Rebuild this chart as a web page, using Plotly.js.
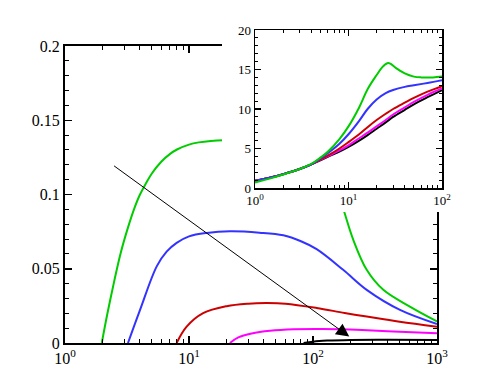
<!DOCTYPE html>
<html>
<head>
<meta charset="utf-8">
<script src="https://cdn.plot.ly/plotly-3.0.1.min.js"></script>
<style>
  body { margin: 0; background: white; }
  #wrap { position: relative; width: 498px; height: 388px; }
  #main { position: absolute; left: 0; top: 0; width: 498px; height: 388px; }
  #inset { position: absolute; left: 222px; top: 0; width: 276px; height: 212px; }
</style>
</head>
<body>
<div id="wrap">
  <div id="main"></div>
  <div id="inset"></div>
</div>
<script>
// main plot curves
var greenX = [1.98, 2.2, 2.5, 2.8, 3.2, 3.6, 4, 4.5, 5, 6, 7, 8, 10, 12, 15, 19, 25, 35, 50, 80, 120, 150, 178, 211, 271, 369, 604, 1000];
var greenY = [0, 0.02, 0.042, 0.06, 0.077, 0.09, 0.0995, 0.1075, 0.114, 0.1222, 0.1272, 0.1303, 0.1336, 0.1351, 0.1361, 0.1366, 0.1366, 0.136, 0.1345, 0.129, 0.119, 0.108, 0.0887, 0.0696, 0.0493, 0.0358, 0.0245, 0.0145];

var blueX = [3.22, 4.03, 5.49, 6.6, 7.95, 10, 13.9, 21.4, 37, 57.6, 80, 107, 175, 271, 503, 1000];
var blueY = [0, 0.0223, 0.0516, 0.0615, 0.0674, 0.0718, 0.0741, 0.0752, 0.0743, 0.0725, 0.0685, 0.0632, 0.0493, 0.0358, 0.0223, 0.0128];

var redX = [7.95, 9.57, 13, 20.1, 30, 42, 60, 107, 180, 271, 500, 1000];
var redY = [0, 0.011, 0.0201, 0.0248, 0.0265, 0.0269, 0.0265, 0.0236, 0.0202, 0.0178, 0.0143, 0.011];

var magentaX = [21.4, 25, 32, 45, 70, 120, 250, 500, 1000];
var magentaY = [0, 0.0038, 0.0064, 0.0082, 0.0092, 0.0094, 0.0087, 0.0076, 0.0065];

var blackX = [84, 100, 130, 200, 400, 1000];
var blackY = [0, 0.0009, 0.0016, 0.0021, 0.0022, 0.002];

// arrow (tail -> head)
var arrowTail = [2.42, 0.12];
var arrowHead = [196, 0.0043];

// inset curves
var inGreenX = [1, 1.5, 2, 3, 4, 5, 6, 8, 10, 13, 16, 20, 23, 26, 28, 32, 40, 50, 60, 80, 100];
var inGreenY = [0.7, 1.25, 1.7, 2.4, 3.05, 3.85, 4.6, 6.2, 7.8, 10.2, 12.5, 14.3, 15.3, 15.8, 15.75, 15.2, 14.5, 14.1, 14.0, 14.0, 14.1];

var inX = [1, 1.5, 2, 3, 4, 5, 6, 8, 10, 13, 16, 20, 25, 30, 40, 50, 70, 100];
var inBlueY = [0.9, 1.35, 1.75, 2.4, 3.0, 3.75, 4.4, 5.6, 6.8, 8.5, 10.0, 11.2, 12.0, 12.4, 12.8, 13.0, 13.3, 13.65];
var inRedY = [0.9, 1.35, 1.75, 2.4, 3.0, 3.6, 4.1, 5.0, 5.8, 6.8, 7.7, 8.6, 9.4, 10.0, 10.8, 11.4, 12.2, 12.9];
var inMagentaY = [0.9, 1.35, 1.75, 2.4, 3.0, 3.55, 4.0, 4.75, 5.4, 6.3, 7.0, 7.8, 8.6, 9.3, 10.2, 10.9, 11.8, 12.6];
var inBlackY = [0.9, 1.35, 1.75, 2.4, 3.0, 3.5, 3.95, 4.6, 5.2, 6.0, 6.7, 7.5, 8.3, 9.0, 9.9, 10.6, 11.5, 12.4];

var decades3 = [1, 10, 100, 1000];
var decadeText3 = ['10<sup>0</sup>', '10<sup>1</sup>', '10<sup>2</sup>', '10<sup>3</sup>'];
var decades2 = [1, 10, 100];
var decadeText2 = ['10<sup>0</sup>', '10<sup>1</sup>', '10<sup>2</sup>'];

function minorLog(maxDec) {
  var v = [];
  for (var d = 0; d < maxDec; d++) {
    for (var k = 2; k <= 9; k++) v.push(k * Math.pow(10, d));
  }
  return v;
}

var colors = {green: '#00cc00', blue: '#3333ff', red: '#cc0000', magenta: '#ff00ff', black: '#000000'};
var serif = 'Liberation Serif';

function line(x, y, c) {
  return {x: x, y: y, type: 'scatter', mode: 'lines',
    line: {color: c, width: 2, shape: 'spline', smoothing: 1}, hoverinfo: 'skip'};
}

var data = [
  line(greenX, greenY, colors.green),
  line(blueX, blueY, colors.blue),
  line(redX, redY, colors.red),
  line(magentaX, magentaY, colors.magenta),
  line(blackX, blackY, colors.black)
];

var layout = {
  width: 498, height: 388,
  margin: {l: 65, r: 61, t: 46, b: 45},
  showlegend: false,
  paper_bgcolor: 'white', plot_bgcolor: 'white',
  font: {family: serif, size: 16, color: 'black'},
  xaxis: {
    type: 'log', range: [0, 3],
    tickmode: 'array', tickvals: decades3, ticktext: decadeText3,
    ticks: 'inside', ticklen: 7, tickwidth: 1.5, tickcolor: 'black',
    showline: true, linewidth: 2, linecolor: 'black', mirror: 'ticks',
    showgrid: false, zeroline: false,
    minor: {ticks: 'inside', ticklen: 4, tickwidth: 1, tickcolor: 'black', tickvals: minorLog(3), showgrid: false}
  },
  yaxis: {
    range: [0, 0.2], tickmode: 'linear', tick0: 0, dtick: 0.05,
    ticks: 'inside', ticklen: 7, tickwidth: 1.5, tickcolor: 'black',
    showline: true, linewidth: 2, linecolor: 'black', mirror: 'ticks',
    showgrid: false, zeroline: false,
    minor: {ticks: 'inside', ticklen: 4, tickwidth: 1, tickcolor: 'black', dtick: 0.01, showgrid: false}
  },
  annotations: [{
    x: Math.log10(arrowHead[0]), y: arrowHead[1],
    ax: Math.log10(arrowTail[0]), ay: arrowTail[1],
    xref: 'x', yref: 'y', axref: 'x', ayref: 'y',
    text: '', showarrow: true,
    arrowhead: 2, arrowsize: 2.6, arrowwidth: 1, arrowcolor: 'black'
  }]
};

Plotly.newPlot('main', data, layout, {staticPlot: true});

var insetData = [
  line(inX, inBlackY, colors.black),
  line(inX, inMagentaY, colors.magenta),
  line(inX, inRedY, colors.red),
  line(inX, inBlueY, colors.blue),
  line(inGreenX, inGreenY, colors.green)
];

var insetLayout = {
  width: 276, height: 212,
  margin: {l: 33, r: 56, t: 30, b: 24},
  showlegend: false,
  paper_bgcolor: 'white', plot_bgcolor: 'white',
  font: {family: serif, size: 13, color: 'black'},
  xaxis: {
    type: 'log', range: [0, 2],
    tickmode: 'array', tickvals: decades2, ticktext: decadeText2,
    ticks: 'inside', ticklen: 6, tickwidth: 1.5, tickcolor: 'black',
    showline: true, linewidth: 1.5, linecolor: 'black', mirror: 'ticks',
    showgrid: false, zeroline: false,
    minor: {ticks: 'inside', ticklen: 3, tickwidth: 1, tickcolor: 'black', tickvals: minorLog(2), showgrid: false}
  },
  yaxis: {
    range: [0, 20], tickmode: 'linear', tick0: 0, dtick: 5,
    ticks: 'inside', ticklen: 6, tickwidth: 1.5, tickcolor: 'black',
    showline: true, linewidth: 1.5, linecolor: 'black', mirror: 'ticks',
    showgrid: false, zeroline: false,
    minor: {ticks: 'inside', ticklen: 3, tickwidth: 1, tickcolor: 'black', dtick: 1, showgrid: false}
  }
};

Plotly.newPlot('inset', insetData, insetLayout, {staticPlot: true});
</script>
</body>
</html>
